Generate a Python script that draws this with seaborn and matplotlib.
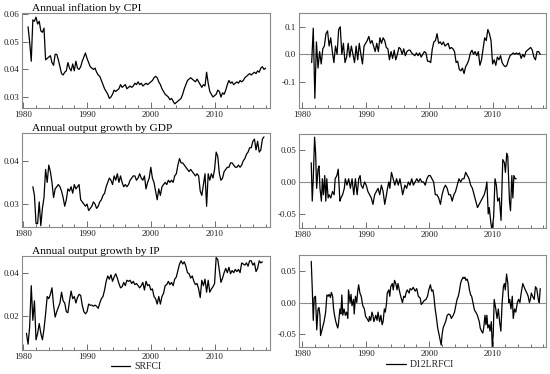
import numpy as np
import matplotlib
matplotlib.use("Agg")
import matplotlib.pyplot as plt
import seaborn as sns
from matplotlib.ticker import MultipleLocator, FormatStrFormatter

# --- data (quarterly unless years are given) ---
cpi_start = 1980.75
cpi_vals = [
    0.0555, 0.050, 0.043, 0.058, 0.0575, 0.059, 0.0565, 0.0575, 0.054, 0.0535,
    0.055, 0.0435, 0.044, 0.0445, 0.045, 0.0425, 0.0415, 0.0455, 0.0455, 0.0435,
    0.041, 0.0385, 0.038, 0.039, 0.0395, 0.0425, 0.0405, 0.0395, 0.042, 0.0395,
    0.043, 0.0405, 0.040, 0.041, 0.043, 0.0445, 0.046, 0.044, 0.0425, 0.041,
    0.0405, 0.040, 0.0405, 0.039, 0.038, 0.0375, 0.036, 0.0345, 0.033, 0.032,
    0.031, 0.0295, 0.030, 0.031, 0.0325, 0.032, 0.0325, 0.033, 0.0345, 0.0335,
    0.034, 0.0345, 0.033, 0.0335, 0.034, 0.0335, 0.034, 0.035, 0.0345, 0.0355,
    0.0345, 0.035, 0.034, 0.0345, 0.035, 0.0345, 0.035, 0.0355, 0.036, 0.037,
    0.0375, 0.037, 0.0355, 0.0345, 0.033, 0.032, 0.031, 0.0305, 0.030, 0.029,
    0.0295, 0.0285, 0.0275, 0.028, 0.0285, 0.029, 0.0295, 0.031, 0.033, 0.0345,
    0.036, 0.0365, 0.037, 0.0365, 0.036, 0.0355, 0.0365, 0.0355, 0.0345, 0.0335,
    0.0345, 0.034, 0.039, 0.035, 0.032, 0.031, 0.030, 0.0305, 0.031, 0.0325,
    0.032, 0.030, 0.0315, 0.031, 0.0325, 0.0345, 0.036, 0.035, 0.0355, 0.0345,
    0.035, 0.0355, 0.035, 0.036, 0.0355, 0.036, 0.037, 0.0375, 0.038, 0.0385,
    0.038, 0.0385, 0.039, 0.0385, 0.0395, 0.039, 0.0405, 0.041, 0.040, 0.0405,
]

cpi_d12_start = 1981.5
cpi_d12_vals = [
    -0.03, 0.095, -0.16, 0.045, -0.05, 0.01, -0.035, 0.02, 0.03, 0.075,
    0.085, 0.03, 0.06, 0.01, -0.03, 0.03, 0.0, 0.09, 0.10, 0.0,
    0.04, -0.03, -0.01, 0.04, -0.01, 0.03, 0.0, -0.03, 0.03, -0.02,
    0.04, 0.0, -0.035, 0.03, 0.04, 0.05, 0.065, 0.04, 0.05, 0.03,
    0.01, 0.04, 0.01, 0.06, 0.04, 0.06, 0.05, 0.025, 0.02, -0.02,
    0.01, -0.015, 0.015, -0.02, 0.0, 0.025, 0.02, 0.0, 0.02, -0.005,
    0.01, 0.015, 0.015, 0.005, 0.0, -0.005, 0.005, -0.005, 0.005, -0.01,
    0.0, 0.01, 0.005, -0.025, -0.025, -0.03, 0.02, 0.045, 0.05, 0.075,
    0.04, 0.045, 0.035, 0.045, 0.03, 0.035, 0.04, 0.02, 0.025, 0.02,
    0.01, -0.03, -0.025, -0.055, -0.06, -0.05, -0.07, -0.045, -0.035, -0.02,
    0.005, 0.015, 0.0, 0.01, -0.005, 0.01, -0.04, -0.02, 0.02, 0.06,
    0.05, 0.09, 0.075, 0.05, -0.035, -0.02, -0.04, -0.01, -0.02, -0.005,
    -0.03, -0.04, -0.045, -0.04, -0.02, -0.005, 0.0, 0.005, 0.0, 0.005,
    0.0, 0.005, -0.015, 0.0, -0.01, 0.01, 0.015, 0.02, 0.025, 0.015,
    -0.01, -0.02, 0.01, 0.01, 0.0,
]

gdp_start = 1981.5
gdp_vals = [
    0.034, 0.032, 0.0255, 0.0255, 0.0305, 0.025, 0.029, 0.0315,
    0.038, 0.035, 0.039, 0.0375, 0.035, 0.0315, 0.0335, 0.034,
    0.0345, 0.034, 0.033, 0.0315, 0.0295, 0.031, 0.0335, 0.033,
    0.034, 0.0325, 0.0345, 0.0335, 0.034, 0.0345, 0.031, 0.0305,
    0.030, 0.0295, 0.030, 0.0285, 0.029, 0.0295, 0.0305, 0.030,
    0.029, 0.0295, 0.0305, 0.031, 0.032, 0.0325, 0.034, 0.035,
    0.036, 0.0355, 0.0345, 0.0365, 0.0355, 0.037, 0.035, 0.0365,
    0.035, 0.034, 0.0345, 0.034, 0.0345, 0.0355, 0.036, 0.0365,
    0.0365, 0.0355, 0.036, 0.037, 0.036, 0.0355, 0.0365, 0.0335,
    0.035, 0.036, 0.0385, 0.036, 0.035, 0.033, 0.031, 0.0335,
    0.032, 0.034, 0.0345, 0.035, 0.0345, 0.0355, 0.035, 0.0355,
    0.035, 0.0365, 0.037, 0.039, 0.0405, 0.0395, 0.0395, 0.039,
    0.0385, 0.038, 0.0375, 0.038, 0.0375, 0.037, 0.0365, 0.037,
    0.0365, 0.033, 0.032, 0.0345, 0.037, 0.0295, 0.037, 0.0355,
    0.037, 0.036, 0.038, 0.042, 0.041, 0.037, 0.0355, 0.036,
    0.0375, 0.038, 0.0385, 0.0385, 0.0395, 0.0395, 0.039, 0.0385,
    0.0385, 0.039, 0.0385, 0.039, 0.040, 0.0405, 0.0415, 0.042,
    0.043, 0.043, 0.0445, 0.045, 0.0425, 0.0445, 0.042, 0.0425,
    0.045, 0.0455,
]

gdp_d12_years = [
    1981.43, 1981.59, 1981.75, 1981.96, 1982.12, 1982.28, 1982.5, 1982.66, 1982.81, 1983.03,
    1983.19, 1983.35, 1983.56, 1983.72, 1983.88, 1984.09, 1984.25, 1984.51, 1984.78, 1985.04,
    1985.2, 1985.47, 1985.68, 1985.95, 1986.11, 1986.37, 1986.64, 1986.8, 1987.06, 1987.33,
    1987.6, 1987.86, 1988.13, 1988.39, 1988.66, 1988.92, 1989.13, 1989.29, 1989.56, 1989.83,
    1990.09, 1990.36, 1990.62, 1990.89, 1991.15, 1991.42, 1991.68, 1991.95, 1992.22, 1992.48,
    1992.75, 1993.01, 1993.28, 1993.44, 1993.65, 1993.81, 1994.07, 1994.34, 1994.6, 1994.87,
    1995.14, 1995.4, 1995.67, 1995.83, 1996.19, 1996.46, 1996.73, 1996.99, 1997.26, 1997.52,
    1997.79, 1998.06, 1998.32, 1998.59, 1998.85, 1999.12, 1999.39, 1999.65, 1999.92, 2000.18,
    2000.45, 2000.71, 2000.98, 2001.24, 2001.51, 2001.78, 2002.04, 2002.31, 2002.57, 2002.84,
    2003.1, 2003.37, 2003.63, 2003.9, 2004.16, 2004.43, 2004.7, 2004.96, 2005.23, 2005.49,
    2005.76, 2006.02, 2006.29, 2006.55, 2006.82, 2007.08, 2007.35, 2007.62, 2007.88, 2008.15,
    2008.41, 2008.68, 2008.94, 2009.1, 2009.31, 2009.47, 2009.74, 2009.9, 2010.16, 2010.38,
    2010.59, 2010.8, 2011.06, 2011.33, 2011.6, 2011.86, 2012.02, 2012.23, 2012.39, 2012.66,
    2012.82, 2013.03, 2013.19, 2013.35, 2013.56, 2013.72,
]
gdp_d12_vals = [
    0.03, -0.03, 0.005, 0.07, 0.045, -0.01, 0.02, 0.025, -0.01, -0.03,
    0.005, -0.02, 0.01, -0.03, 0.005, -0.025, -0.02, -0.025, -0.015, -0.02,
    0.005, 0.01, 0.02, -0.03, -0.025, -0.02, -0.01, 0.005, -0.005, 0.005,
    -0.01, 0.005, -0.02, 0.005, -0.02, 0.005, 0.01, -0.005, -0.01, 0.0,
    -0.005, -0.015, -0.02, -0.025, -0.035, -0.02, -0.015, -0.01, -0.02, -0.005,
    -0.015, -0.035, -0.02, -0.01, 0.0, -0.01, 0.015, 0.005, -0.005, 0.005,
    -0.005, 0.005, -0.01, -0.02, -0.005, -0.01, 0.0, -0.005, 0.005, -0.005,
    0.0, 0.005, 0.0, 0.005, 0.0, 0.0, -0.005, 0.005, 0.01, 0.01,
    0.005, 0.0, -0.02, -0.02, -0.025, -0.035, -0.02, -0.01, -0.005, -0.01,
    -0.02, -0.02, -0.03, -0.02, -0.015, -0.005, 0.005, 0.0, 0.005, 0.005,
    0.015, 0.01, 0.005, -0.005, -0.01, -0.02, -0.03, -0.04, -0.035, -0.03,
    -0.025, -0.02, -0.01, 0.0, -0.05, -0.04, -0.065, -0.075, -0.055, 0.005,
    -0.005, -0.03, -0.025, -0.06, 0.035, 0.03, 0.015, 0.045, 0.04, -0.03,
    -0.045, 0.01, -0.025, 0.01, 0.005, 0.005,
]

ip_start = 1980.5
ip_vals = [
    0.012, 0.007, 0.015, 0.034, 0.018, 0.027, 0.009, 0.012, 0.0165, 0.012,
    0.009, 0.014, 0.021, 0.029, 0.028, 0.030, 0.033, 0.025, 0.0195, 0.022,
    0.024, 0.026, 0.031, 0.027, 0.026, 0.022, 0.0215, 0.027, 0.0315, 0.028,
    0.029, 0.026, 0.0285, 0.030, 0.0295, 0.025, 0.022, 0.021, 0.022, 0.0255,
    0.025, 0.025, 0.0245, 0.025, 0.0245, 0.0235, 0.026, 0.028, 0.029, 0.032,
    0.036, 0.0385, 0.037, 0.039, 0.036, 0.038, 0.0395, 0.0375, 0.035, 0.033,
    0.0335, 0.0355, 0.034, 0.0365, 0.036, 0.0365, 0.035, 0.036, 0.0345, 0.035,
    0.034, 0.033, 0.034, 0.0355, 0.032, 0.036, 0.034, 0.0345, 0.032, 0.0325,
    0.029, 0.028, 0.0255, 0.029, 0.0255, 0.029, 0.0305, 0.034, 0.0345, 0.036,
    0.0345, 0.0355, 0.034, 0.037, 0.038, 0.041, 0.044, 0.0455, 0.044, 0.045,
    0.043, 0.040, 0.0395, 0.0375, 0.0385, 0.036, 0.0345, 0.035, 0.0325, 0.0285,
    0.0365, 0.034, 0.037, 0.031, 0.0365, 0.031, 0.0325, 0.0335, 0.035, 0.047,
    0.046, 0.041, 0.0355, 0.0375, 0.040, 0.042, 0.040, 0.0425, 0.0395, 0.041,
    0.040, 0.0415, 0.0405, 0.0415, 0.040, 0.0445, 0.044, 0.0435, 0.0445, 0.043,
    0.0455, 0.0455, 0.0435, 0.0445, 0.0405, 0.042, 0.0455, 0.0445, 0.045,
]

ip_d12_years = [
    1981.43, 1981.6, 1981.75, 1981.9, 1982.1, 1982.3, 1982.5, 1982.65, 1982.8, 1982.9,
    1983.2, 1983.45, 1983.7, 1983.9, 1984.1, 1984.25, 1984.45, 1984.6, 1984.8, 1984.95,
    1985.1, 1985.3, 1985.6, 1985.7, 1985.95, 1986.1, 1986.25, 1986.4, 1986.6, 1986.8,
    1987.0, 1987.2, 1987.3, 1987.55, 1987.7, 1987.85, 1988.1, 1988.2, 1988.4, 1988.6,
    1988.75, 1988.9, 1989.1, 1989.3, 1989.55, 1989.8, 1990.0, 1990.2, 1990.5, 1990.6,
    1990.8, 1991.0, 1991.15, 1991.3, 1991.6, 1991.8, 1991.95, 1992.2, 1992.4, 1992.6,
    1992.75, 1992.95, 1993.1, 1993.3, 1993.4, 1993.65, 1993.8, 1993.95, 1994.2, 1994.35,
    1994.55, 1994.75, 1994.95, 1995.1, 1995.4, 1995.65, 1995.8, 1996.0, 1996.2, 1996.35,
    1996.55, 1996.85, 1997.0, 1997.25, 1997.5, 1997.8, 1998.05, 1998.3, 1998.6, 1998.75,
    1999.0, 1999.2, 1999.5, 1999.75, 1999.95, 2000.2, 2000.4, 2000.6, 2000.75, 2000.95,
    2001.1, 2001.35, 2001.55, 2001.75, 2001.9, 2002.05, 2002.2, 2002.4, 2002.6, 2002.85,
    2003.1, 2003.35, 2003.5, 2003.8, 2004.0, 2004.2, 2004.4, 2004.6, 2004.8, 2004.95,
    2005.1, 2005.35, 2005.5, 2005.65, 2005.8, 2006.0, 2006.2, 2006.35, 2006.55, 2006.7,
    2006.9, 2007.15, 2007.35, 2007.6, 2007.9, 2008.05, 2008.25, 2008.45, 2008.6, 2008.8,
    2008.95, 2009.1, 2009.25, 2009.45, 2009.6, 2009.8, 2009.95, 2010.1, 2010.25, 2010.5,
    2010.7, 2010.9, 2011.1, 2011.3, 2011.5, 2011.7, 2011.85, 2012.0, 2012.2, 2012.4,
    2012.55, 2012.7, 2012.9, 2013.1, 2013.25, 2013.45, 2013.65, 2013.9, 2014.1, 2014.3,
    2014.5, 2014.75, 2014.95, 2015.15, 2015.4, 2015.6, 2015.8, 2015.95, 2016.1, 2016.3,
    2016.55, 2016.75, 2016.95, 2017.2, 2017.35, 2017.5,
]
ip_d12_vals = [
    0.065, 0.02, -0.028, 0.008, 0.01, -0.043, -0.01, -0.008, -0.02, -0.052,
    -0.04, -0.03, -0.015, 0.012, 0.01, 0.013, 0.008, 0.016, 0.01, -0.01,
    -0.02, -0.03, -0.04, -0.035, -0.01, -0.018, 0.012, -0.02, -0.01, -0.02,
    -0.015, -0.025, 0.02, 0.0, 0.013, -0.005, 0.005, -0.018, 0.01, 0.0,
    0.018, 0.028, 0.015, 0.01, -0.005, -0.01, -0.022, -0.025, -0.03, -0.022,
    -0.028, -0.015, -0.02, -0.03, -0.02, -0.028, -0.015, -0.03, -0.02, -0.035,
    -0.03, -0.01, -0.015, 0.0, 0.015, 0.02, 0.01, 0.025, 0.03, 0.02,
    0.035, 0.03, 0.02, 0.03, 0.015, 0.005, 0.0, 0.01, 0.008, 0.015,
    0.02, 0.015, 0.022, 0.02, 0.024, 0.018, 0.022, 0.01, 0.007, -0.003,
    0.0, 0.003, 0.005, 0.01, 0.02, 0.028, 0.018, 0.02, 0.01, -0.01,
    -0.02, -0.04, -0.05, -0.06, -0.067, -0.05, -0.04, -0.035, -0.03, -0.02,
    -0.018, -0.02, -0.025, -0.02, -0.015, -0.005, 0.005, 0.01, 0.02, 0.03,
    0.035, 0.04, 0.038, 0.04, 0.035, 0.037, 0.03, 0.02, 0.012, 0.01,
    0.0, -0.012, -0.015, -0.02, -0.03, -0.04, -0.045, -0.048, -0.04, -0.02,
    -0.035, -0.02, -0.04, -0.035, -0.045, -0.03, -0.07, -0.05, 0.005, -0.01,
    -0.025, -0.01, -0.03, -0.045, 0.0, 0.025, 0.03, 0.02, 0.045, 0.03,
    0.0, 0.005, -0.01, 0.01, -0.025, -0.01, -0.015, 0.0, 0.005, 0.0,
    0.015, 0.03, 0.025, 0.02, 0.015, 0.01, 0.0, 0.005, 0.015, 0.01,
    0.005, 0.025, 0.022, 0.005, 0.0, 0.022,
]

titles = ["Annual inflation by CPI", "Annual output growth by GDP", "Annual output growth by IP"]
legend_left = "SRFCI"
legend_right = "D12LRFCI"


def qyears(start, vals):
    return start + 0.25 * np.arange(len(vals))


sns.set_theme(style="ticks")
plt.rcParams["font.family"] = ["Liberation Serif", "DejaVu Serif"]

fig = plt.figure(figsize=(5.5, 3.74), dpi=100)

left_pos = [[0.040, 0.7112, 0.451, 0.254],
            [0.040, 0.3930, 0.451, 0.2513],
            [0.040, 0.0642, 0.451, 0.2513]]
right_pos = [[0.5436, 0.7112, 0.449, 0.254],
             [0.5436, 0.3904, 0.449, 0.2513],
             [0.5436, 0.0722, 0.449, 0.246]]

left_series = [(qyears(cpi_start, cpi_vals), cpi_vals),
               (qyears(gdp_start, gdp_vals), gdp_vals),
               (qyears(ip_start, ip_vals), ip_vals)]
right_series = [(qyears(cpi_d12_start, cpi_d12_vals), cpi_d12_vals),
                (gdp_d12_years, gdp_d12_vals),
                (ip_d12_years, ip_d12_vals)]

left_ylim = [(0.026, 0.0605), (0.0247, 0.0464), (0.0043, 0.0477)]
left_yticks = [[0.03, 0.04, 0.05, 0.06], [0.03, 0.04], [0.02, 0.04]]
right_ylim = [(-0.195, 0.15), (-0.072, 0.075), (-0.07, 0.075)]
right_yticks = [[-0.1, 0.0, 0.1], [-0.05, 0.0, 0.05], [-0.05, 0.0, 0.05]]
right_fmt = ["%.1f", "%.2f", "%.2f"]

frame_col = "#8a8a8a"


def style_axes(ax, xlim, ylim, yticks, fmt):
    ax.set_xlim(*xlim)
    ax.set_ylim(*ylim)
    ax.set_yticks(yticks)
    ax.yaxis.set_major_formatter(FormatStrFormatter(fmt))
    ax.xaxis.set_major_locator(MultipleLocator(10))
    ax.xaxis.set_minor_locator(MultipleLocator(2))
    ax.xaxis.set_major_formatter(FormatStrFormatter("%d"))
    ax.set_xlabel("")
    ax.set_ylabel("")
    for sp in ax.spines.values():
        sp.set_visible(True)
        sp.set_color(frame_col)
        sp.set_linewidth(0.8)
    ax.tick_params(axis="both", which="major", direction="in", length=4, width=0.6,
                   color="#555555", labelsize=6.5, pad=2, labelcolor="#222222")
    ax.tick_params(axis="x", which="minor", direction="in", length=2.5, width=0.6,
                   color="#555555")


for i in range(3):
    axl = fig.add_axes(left_pos[i])
    x, y = left_series[i]
    sns.lineplot(x=x, y=y, ax=axl, color="black", linewidth=0.9, legend=False)
    style_axes(axl, (1979.8, 2018.7), left_ylim[i], left_yticks[i], "%.2f")
    axl.text(0.04, 1.0, titles[i], transform=axl.transAxes, ha="left", va="bottom",
             fontsize=8.2, color="black")

    axr = fig.add_axes(right_pos[i])
    axr.axhline(0, color="#8c8c8c", linewidth=0.8)
    x, y = right_series[i]
    sns.lineplot(x=x, y=y, ax=axr, color="black", linewidth=0.9, legend=False)
    style_axes(axr, (1979.5, 2018.4), right_ylim[i], right_yticks[i], right_fmt[i])

    if i == 2:
        axl.legend(handles=axl.get_lines()[:1], labels=[legend_left], loc="center",
                   bbox_to_anchor=(0.46, -0.18), frameon=False, fontsize=7,
                   handlelength=2.0, handletextpad=0.4)
        axr.legend(handles=axr.get_lines()[1:2], labels=[legend_right], loc="center",
                   bbox_to_anchor=(0.49, -0.19), frameon=False, fontsize=7,
                   handlelength=2.0, handletextpad=0.4)

fig.savefig("out.png", dpi=100)
